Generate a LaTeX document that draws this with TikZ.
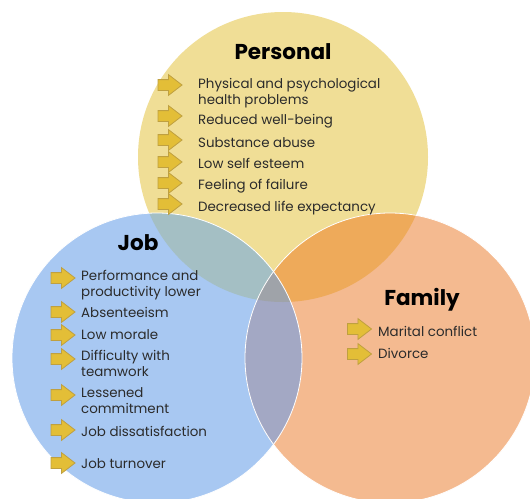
\documentclass[tikz,border=0pt]{standalone}
\usepackage{fontspec}
\setmainfont{Poppins}
\usetikzlibrary{shapes.arrows}
\definecolor{perscol}{HTML}{F0DE96}
\definecolor{jobcol}{HTML}{A8C8F2}
\definecolor{famcol}{HTML}{F4BA90}
\definecolor{pjcol}{HTML}{A4BFC4}
\definecolor{pfcol}{HTML}{EEAA5A}
\definecolor{jfcol}{HTML}{A3A8C4}
\definecolor{allcol}{HTML}{9FA3A9}
\definecolor{arrfill}{HTML}{E3BE37}
\definecolor{arrline}{HTML}{BFA040}
\definecolor{txtcol}{HTML}{2B2B2B}
\begin{document}
\begin{tikzpicture}[x=1pt,y=-1pt,
  arr/.style={single arrow, draw=arrline, fill=arrfill, line width=0.8pt, inner xsep=0pt, inner ysep=5pt,
    minimum height=24pt, single arrow head extend=5pt, single arrow tip angle=75},
  item/.style={align=left, inner sep=0pt, text=txtcol, font=\fontsize{13.4}{16}\selectfont},
  head/.style={inner sep=0pt, font=\fontsize{21.5}{24}\selectfont\bfseries}]
\useasboundingbox[fill=white] (0,0) rectangle (530,498);

% circles and overlaps
\coordinate (pc) at (283,157);
\coordinate (jc) at (157,358);
\coordinate (fc) at (390,358);
\fill[perscol] (pc) circle (145pt);
\fill[jobcol] (jc) circle (145pt);
\fill[famcol] (fc) circle (145pt);
\begin{scope}
\clip (pc) circle (145pt);
\fill[pjcol] (jc) circle (145pt);
\fill[pfcol] (fc) circle (145pt);
\end{scope}
\begin{scope}
\clip (jc) circle (145pt);
\fill[jfcol] (fc) circle (145pt);
\clip (pc) circle (145pt);
\fill[allcol] (fc) circle (145pt);
\end{scope}
\draw[white, line width=0.8pt] (jc) circle (145pt);
\draw[white, line width=0.8pt] (fc) circle (145pt);

% Personal
\node[head] (pers) at (283,52) {Personal};
\node[arr] (pa1) at (166.5,85) {};
\node[arr] (pa2) at (166.5,116) {};
\node[arr] (pa3) at (166.5,140) {};
\node[arr] (pa4) at (166.5,162) {};
\node[arr] (pa5) at (166.5,183) {};
\node[arr] (pa6) at (166.5,204) {};
\node[item, anchor=base west] (p1) at (198,104) {Physical and psychological\\health problems};
\node[item, anchor=base west] (p2) at (198,124) {Reduced well-being};
\node[item, anchor=base west] (p3) at (198,147) {Substance abuse};
\node[item, anchor=base west] (p4) at (198,168) {Low self esteem};
\node[item, anchor=base west] (p5) at (198,189) {Feeling of failure};
\node[item, anchor=base west] (p6) at (198,211) {Decreased life expectancy};

% Job
\node[head] (job) at (138,243) {Job};
\node[arr] (ja1) at (59.5,278) {};
\node[arr] (ja2) at (59.5,312) {};
\node[arr] (ja3) at (59.5,335) {};
\node[arr] (ja4) at (59.5,359) {};
\node[arr] (ja5) at (59.5,395) {};
\node[arr] (ja6) at (59.5,430) {};
\node[arr] (ja7) at (59.5,463) {};
\node[item, anchor=base west] (j1) at (81,296) {Performance and\\productivity lower};
\node[item, anchor=base west] (j2) at (81,317) {Absenteeism};
\node[item, anchor=base west] (j3) at (81,339) {Low morale};
\node[item, anchor=base west] (j4) at (81,376) {Difficulty with\\teamwork};
\node[item, anchor=base west] (j5) at (81,413) {Lessened\\commitment};
\node[item, anchor=base west] (j6) at (81,436) {Job dissatisfaction};
\node[item, anchor=base west] (j7) at (81,468) {Job turnover};

% Family
\node[head] (fam) at (422,300) {Family};
\node[arr] (fa1) at (356,329) {};
\node[arr] (fa2) at (356,354) {};
\node[item, anchor=base west] (f1) at (378,336) {Marital conflict};
\node[item, anchor=base west] (f2) at (378,358) {Divorce};
\end{tikzpicture}
\end{document}
